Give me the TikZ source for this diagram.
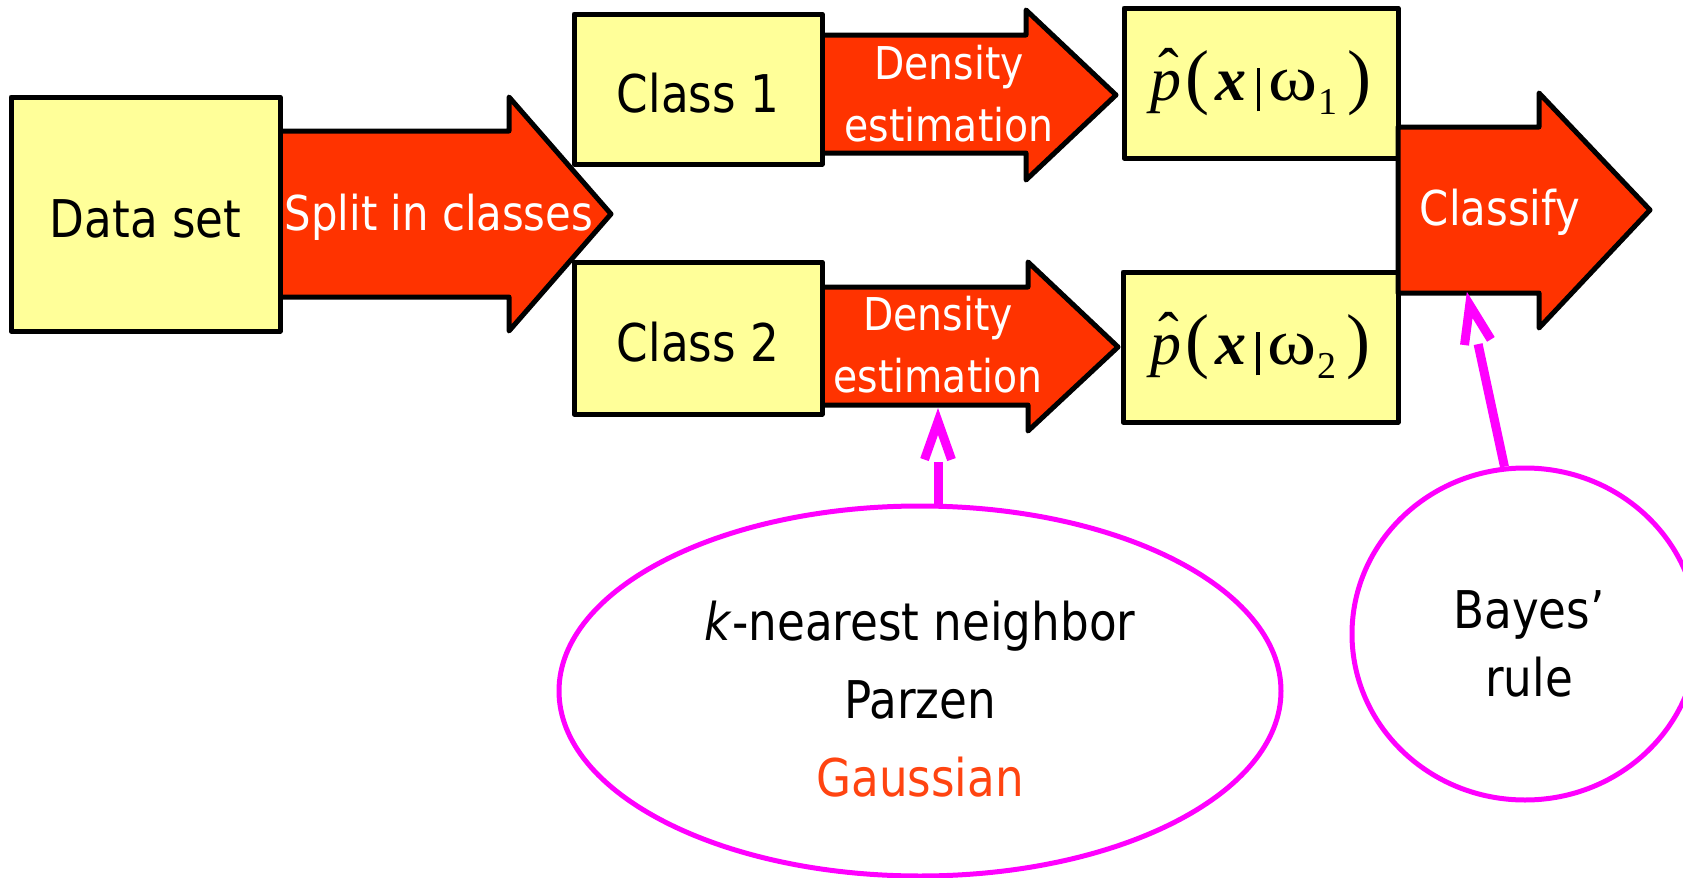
\documentclass[tikz,border=0pt]{standalone}
\usepackage{fontspec}
\usepackage{graphicx}
\usetikzlibrary{shapes.geometric,calc}

\newfontfamily\dvs{DejaVu Sans}[FakeStretch=0.87]
\newfontfamily\lserif{Liberation Serif}

\definecolor{boxyellow}{HTML}{FFFF99}
\definecolor{flowred}{HTML}{FF3300}
\definecolor{notemagenta}{HTML}{FF00FF}
\definecolor{gaussred}{HTML}{FF4411}

% italic p with a circumflex on top
\newcommand\phat{\ooalign{{\itshape p}\cr\hidewidth\raisebox{4.5pt}{\kern3pt ˆ}\hidewidth\cr}}
% estimated class-conditional density  p^(x|w_i)
\newcommand\pdens[1]{{\lserif\phat\kern2pt{\fontsize{36}{36}\selectfont(}\kern3pt{\bfseries\itshape x}\kern5pt\rule[-5.5pt]{1.8pt}{21.5pt}\kern4pt\scalebox{1.2}[1.05]{ω}\kern0.5pt\raisebox{-7pt}{\fontsize{19}{19}\selectfont #1}\kern5pt{\fontsize{36}{36}\selectfont)}}}

\begin{document}
\begin{tikzpicture}[x=0.5pt,y=-0.5pt,
  every node/.style={inner sep=0pt},
  yellowbox/.style={draw=black, fill=boxyellow, line width=2.5pt, line join=round},
  flowarrow/.style={draw=black, fill=flowred, line width=2.5pt, line join=round},
  flowtext/.style={text=white, font=\dvs\fontsize{24}{24}\selectfont, anchor=base},
  densitytext/.style={text=white, font=\dvs\fontsize{22.6}{31}\selectfont, align=center},
  boxtext/.style={font=\dvs\fontsize{26}{26}\selectfont, text height=23.5pt, text depth=0pt},
  mathtext/.style={font=\fontsize{31}{31}\selectfont},
  notebubble/.style={ellipse, draw=notemagenta, line width=2.5pt},
  notetext/.style={font=\dvs\fontsize{26}{39}\selectfont, align=center},
  notearrow/.style={draw=notemagenta, line width=4.5pt}
]
\clip (0,0) rectangle (1683,878);

% block arrows
\draw[flowarrow] (280,131) -- (509,131) -- (509,97) -- (611,214) -- (509,331) -- (509,297) -- (280,297) -- cycle;
\draw[flowarrow] (822,35) -- (1026,35) -- (1026,10) -- (1116,95) -- (1026,180) -- (1026,153) -- (822,153) -- cycle;
\draw[flowarrow] (822,287) -- (1028,287) -- (1028,262) -- (1118,347) -- (1028,431) -- (1028,405) -- (822,405) -- cycle;

% boxes
\node[yellowbox, boxtext, minimum width=134.5pt, minimum height=117pt] (data) at (145.5,214) {Data set};
\node[yellowbox, boxtext, minimum width=124pt, minimum height=75pt] (c1) at (698,89) {Class 1};
\node[yellowbox, boxtext, minimum width=124pt, minimum height=76pt] (c2) at (698,338) {Class 2};
\node[yellowbox, mathtext, minimum width=137pt, minimum height=75pt] (p1) at (1261,83) {\pdens{1}};
\node[yellowbox, mathtext, minimum width=137.5pt, minimum height=75pt] (p2) at (1260.5,347) {\pdens{2}};

\draw[flowarrow] (1398,127) -- (1539,127) -- (1539,93) -- (1650,210) -- (1539,328) -- (1539,293) -- (1398,293) -- cycle;

% arrow labels
\node[flowtext] (split) at (439,230) {Split in classes};
\node[densitytext] (de1) at (949,94) {Density\\estimation};
\node[densitytext] (de2) at (938,345) {Density\\estimation};
\node[flowtext] (classify) at (1500,225) {Classify};

% notes
\node[notebubble, minimum width=361pt, minimum height=185pt] (methods) at (920,691) {};
\node[notetext] (methodtext) at (920,699) {\textit{k}-nearest neighbor\\Parzen\\\textcolor{gaussred}{Gaussian}};
\node[notebubble, minimum width=173pt, minimum height=166pt] (bayes) at (1525,634) {};
\node[notetext, font=\dvs\fontsize{26}{34}\selectfont] (bayestext) at (1529,644) {Bayes’\\rule};

% note pointers
\coordinate (tipA) at (938,421.5);
\coordinate (baseA) at (methods.north -| tipA);
\draw[notearrow] (baseA) -- ($(tipA)!20pt!(baseA)$);
\draw[notearrow, line join=miter] ($(tipA)!20.2pt!19.5:(baseA)$) -- (tipA) -- ($(tipA)!20.2pt!-19.5:(baseA)$);

\coordinate (tipB) at (1469.7,305);
\coordinate (baseB) at (bayes.97);
\draw[notearrow] (baseB) -- ($(tipB)!20pt!(baseB)$);
\draw[notearrow, line join=miter] ($(tipB)!20.2pt!19.5:(baseB)$) -- (tipB) -- ($(tipB)!20.2pt!-19.5:(baseB)$);
\end{tikzpicture}
\end{document}
